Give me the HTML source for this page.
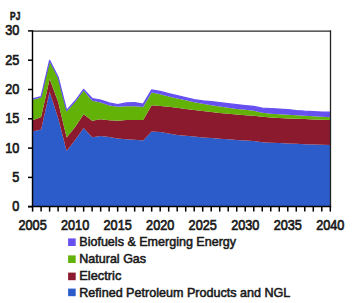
<!DOCTYPE html>
<html><head><meta charset="utf-8"><style>
html,body{margin:0;padding:0;background:#fff;}
svg{display:block;}
text{font-family:"Liberation Sans",sans-serif;fill:#1a1a1a;}
</style></head><body>
<svg width="353" height="303" viewBox="0 0 353 303">
<rect width="353" height="303" fill="#fff"/>
<polygon points="32.60,131.50 41.11,129.50 49.61,92.00 58.12,118.00 66.62,151.00 75.13,140.00 83.63,128.10 92.14,137.30 100.65,136.10 109.15,137.00 117.66,138.40 126.16,139.30 134.67,139.70 143.17,140.60 151.68,131.40 160.19,131.90 168.69,133.60 177.20,134.90 185.70,135.80 194.21,136.60 202.71,137.50 211.22,138.10 219.73,138.70 228.23,139.30 236.74,139.90 245.24,140.50 253.75,141.10 262.25,142.30 270.76,142.70 279.27,143.10 287.77,143.50 296.28,143.82 304.78,144.14 313.29,144.46 321.79,144.78 330.30,145.10 330.30,206.70 32.60,206.70" fill="#2b5cc9"/>
<polygon points="32.60,120.30 41.11,117.00 49.61,79.00 58.12,101.70 66.62,137.40 75.13,127.00 83.63,114.20 92.14,120.80 100.65,119.20 109.15,120.30 117.66,120.80 126.16,119.90 134.67,119.90 143.17,119.90 151.68,105.20 160.19,106.00 168.69,106.80 177.20,107.80 185.70,108.90 194.21,110.00 202.71,111.00 211.22,112.10 219.73,113.00 228.23,113.80 236.74,114.60 245.24,115.20 253.75,115.70 262.25,116.70 270.76,117.50 279.27,118.00 287.77,118.40 296.28,118.80 304.78,119.10 313.29,119.40 321.79,119.70 330.30,120.00 330.30,145.10 321.79,144.78 313.29,144.46 304.78,144.14 296.28,143.82 287.77,143.50 279.27,143.10 270.76,142.70 262.25,142.30 253.75,141.10 245.24,140.50 236.74,139.90 228.23,139.30 219.73,138.70 211.22,138.10 202.71,137.50 194.21,136.60 185.70,135.80 177.20,134.90 168.69,133.60 160.19,131.90 151.68,131.40 143.17,140.60 134.67,139.70 126.16,139.30 117.66,138.40 109.15,137.00 100.65,136.10 92.14,137.30 83.63,128.10 75.13,140.00 66.62,151.00 58.12,118.00 49.61,92.00 41.11,129.50 32.60,131.50" fill="#8c1a2e"/>
<polygon points="32.60,99.80 41.11,97.60 49.61,61.30 58.12,78.00 66.62,111.50 75.13,102.00 83.63,90.50 92.14,100.80 100.65,102.50 109.15,105.50 117.66,106.80 126.16,106.30 134.67,106.30 143.17,107.00 151.68,92.60 160.19,94.20 168.69,96.50 177.20,98.40 185.70,100.30 194.21,102.20 202.71,103.80 211.22,105.20 219.73,106.60 228.23,107.80 236.74,108.90 245.24,109.80 253.75,110.70 262.25,112.80 270.76,113.70 279.27,114.20 287.77,114.70 296.28,115.30 304.78,115.80 313.29,116.30 321.79,116.80 330.30,117.30 330.30,120.00 321.79,119.70 313.29,119.40 304.78,119.10 296.28,118.80 287.77,118.40 279.27,118.00 270.76,117.50 262.25,116.70 253.75,115.70 245.24,115.20 236.74,114.60 228.23,113.80 219.73,113.00 211.22,112.10 202.71,111.00 194.21,110.00 185.70,108.90 177.20,107.80 168.69,106.80 160.19,106.00 151.68,105.20 143.17,119.90 134.67,119.90 126.16,119.90 117.66,120.80 109.15,120.30 100.65,119.20 92.14,120.80 83.63,114.20 75.13,127.00 66.62,137.40 58.12,101.70 49.61,79.00 41.11,117.00 32.60,120.30" fill="#62b208"/>
<polygon points="32.60,98.90 41.11,96.70 49.61,60.30 58.12,77.00 66.62,110.30 75.13,101.00 83.63,89.30 92.14,98.50 100.65,100.10 109.15,102.90 117.66,104.70 126.16,102.90 134.67,102.70 143.17,104.10 151.68,89.90 160.19,91.40 168.69,93.60 177.20,95.60 185.70,97.70 194.21,99.70 202.71,100.80 211.22,101.60 219.73,102.60 228.23,103.70 236.74,104.70 245.24,105.60 253.75,106.40 262.25,108.20 270.76,108.50 279.27,109.00 287.77,109.60 296.28,110.60 304.78,111.20 313.29,111.60 321.79,112.00 330.30,112.20 330.30,117.30 321.79,116.80 313.29,116.30 304.78,115.80 296.28,115.30 287.77,114.70 279.27,114.20 270.76,113.70 262.25,112.80 253.75,110.70 245.24,109.80 236.74,108.90 228.23,107.80 219.73,106.60 211.22,105.20 202.71,103.80 194.21,102.20 185.70,100.30 177.20,98.40 168.69,96.50 160.19,94.20 151.68,92.60 143.17,107.00 134.67,106.30 126.16,106.30 117.66,106.80 109.15,105.50 100.65,102.50 92.14,100.80 83.63,90.50 75.13,102.00 66.62,111.50 58.12,78.00 49.61,61.30 41.11,97.60 32.60,99.80" fill="#6650f0"/>

<polyline points="32.60,98.90 41.11,96.70 49.61,60.30 58.12,77.00 66.62,110.30 75.13,101.00 83.63,89.30 92.14,98.50 100.65,100.10 109.15,102.90 117.66,104.70 126.16,102.90 134.67,102.70 143.17,104.10 151.68,89.90 160.19,91.40 168.69,93.60 177.20,95.60 185.70,97.70 194.21,99.70 202.71,100.80 211.22,101.60 219.73,102.60 228.23,103.70 236.74,104.70 245.24,105.60 253.75,106.40 262.25,108.20 270.76,108.50 279.27,109.00 287.77,109.60 296.28,110.60 304.78,111.20 313.29,111.60 321.79,112.00 330.30,112.20" fill="none" stroke="#6650f0" stroke-width="1.2" stroke-linejoin="round"/>
<g stroke="#000" stroke-width="1.5" fill="none">
<line x1="32.6" y1="31.1" x2="330.5" y2="31.1" stroke="#2a2a2a" stroke-width="1.15"/>
<line x1="330.5" y1="30.3" x2="330.5" y2="206.5" stroke="#222" stroke-width="1.3"/>
<line x1="32.5" y1="30.3" x2="32.5" y2="207.2" stroke="#000" stroke-width="1.4"/>
<line x1="28" y1="206.5" x2="331.2" y2="206.5" stroke="#000" stroke-width="1.4"/>
<line x1="32.60" y1="206.7" x2="32.60" y2="211.6"/><line x1="41.11" y1="206.7" x2="41.11" y2="211.6"/><line x1="49.61" y1="206.7" x2="49.61" y2="211.6"/><line x1="58.12" y1="206.7" x2="58.12" y2="211.6"/><line x1="66.62" y1="206.7" x2="66.62" y2="211.6"/><line x1="75.13" y1="206.7" x2="75.13" y2="211.6"/><line x1="83.63" y1="206.7" x2="83.63" y2="211.6"/><line x1="92.14" y1="206.7" x2="92.14" y2="211.6"/><line x1="100.65" y1="206.7" x2="100.65" y2="211.6"/><line x1="109.15" y1="206.7" x2="109.15" y2="211.6"/><line x1="117.66" y1="206.7" x2="117.66" y2="211.6"/><line x1="126.16" y1="206.7" x2="126.16" y2="211.6"/><line x1="134.67" y1="206.7" x2="134.67" y2="211.6"/><line x1="143.17" y1="206.7" x2="143.17" y2="211.6"/><line x1="151.68" y1="206.7" x2="151.68" y2="211.6"/><line x1="160.19" y1="206.7" x2="160.19" y2="211.6"/><line x1="168.69" y1="206.7" x2="168.69" y2="211.6"/><line x1="177.20" y1="206.7" x2="177.20" y2="211.6"/><line x1="185.70" y1="206.7" x2="185.70" y2="211.6"/><line x1="194.21" y1="206.7" x2="194.21" y2="211.6"/><line x1="202.71" y1="206.7" x2="202.71" y2="211.6"/><line x1="211.22" y1="206.7" x2="211.22" y2="211.6"/><line x1="219.73" y1="206.7" x2="219.73" y2="211.6"/><line x1="228.23" y1="206.7" x2="228.23" y2="211.6"/><line x1="236.74" y1="206.7" x2="236.74" y2="211.6"/><line x1="245.24" y1="206.7" x2="245.24" y2="211.6"/><line x1="253.75" y1="206.7" x2="253.75" y2="211.6"/><line x1="262.25" y1="206.7" x2="262.25" y2="211.6"/><line x1="270.76" y1="206.7" x2="270.76" y2="211.6"/><line x1="279.27" y1="206.7" x2="279.27" y2="211.6"/><line x1="287.77" y1="206.7" x2="287.77" y2="211.6"/><line x1="296.28" y1="206.7" x2="296.28" y2="211.6"/><line x1="304.78" y1="206.7" x2="304.78" y2="211.6"/><line x1="313.29" y1="206.7" x2="313.29" y2="211.6"/><line x1="321.79" y1="206.7" x2="321.79" y2="211.6"/><line x1="330.30" y1="206.7" x2="330.30" y2="211.6"/><line x1="28" y1="206.70" x2="32.6" y2="206.70"/><line x1="28" y1="177.40" x2="32.6" y2="177.40"/><line x1="28" y1="148.10" x2="32.6" y2="148.10"/><line x1="28" y1="118.80" x2="32.6" y2="118.80"/><line x1="28" y1="89.50" x2="32.6" y2="89.50"/><line x1="28" y1="60.20" x2="32.6" y2="60.20"/><line x1="28" y1="30.90" x2="32.6" y2="30.90"/>
</g>
<g font-size="14.2" font-weight="normal" stroke="#1a1a1a" stroke-width="0.7"><text x="19.4" y="211.10" text-anchor="end" textLength="7.05" lengthAdjust="spacingAndGlyphs">0</text><text x="19.4" y="181.80" text-anchor="end" textLength="7.05" lengthAdjust="spacingAndGlyphs">5</text><text x="19.4" y="152.50" text-anchor="end" textLength="14.10" lengthAdjust="spacingAndGlyphs">10</text><text x="19.4" y="123.20" text-anchor="end" textLength="14.10" lengthAdjust="spacingAndGlyphs">15</text><text x="19.4" y="93.90" text-anchor="end" textLength="14.10" lengthAdjust="spacingAndGlyphs">20</text><text x="19.4" y="64.60" text-anchor="end" textLength="14.10" lengthAdjust="spacingAndGlyphs">25</text><text x="19.4" y="35.30" text-anchor="end" textLength="14.10" lengthAdjust="spacingAndGlyphs">30</text><text x="32.60" y="229.6" text-anchor="middle" textLength="28.2" lengthAdjust="spacingAndGlyphs">2005</text><text x="75.13" y="229.6" text-anchor="middle" textLength="28.2" lengthAdjust="spacingAndGlyphs">2010</text><text x="117.66" y="229.6" text-anchor="middle" textLength="28.2" lengthAdjust="spacingAndGlyphs">2015</text><text x="160.19" y="229.6" text-anchor="middle" textLength="28.2" lengthAdjust="spacingAndGlyphs">2020</text><text x="202.71" y="229.6" text-anchor="middle" textLength="28.2" lengthAdjust="spacingAndGlyphs">2025</text><text x="245.24" y="229.6" text-anchor="middle" textLength="28.2" lengthAdjust="spacingAndGlyphs">2030</text><text x="287.77" y="229.6" text-anchor="middle" textLength="28.2" lengthAdjust="spacingAndGlyphs">2035</text><text x="330.30" y="229.6" text-anchor="middle" textLength="28.2" lengthAdjust="spacingAndGlyphs">2040</text></g>
<text x="10.1" y="19.9" font-size="10.3" font-weight="bold" textLength="10.2" lengthAdjust="spacingAndGlyphs" stroke="#1a1a1a" stroke-width="0.6">PJ</text>
<g font-size="12.6" font-weight="normal" stroke="#1a1a1a" stroke-width="0.55"><rect x="68.1" y="238.4" width="7.6" height="7.6" fill="#6650f0" stroke="none"/><text x="79.3" y="246.2" textLength="156.8" lengthAdjust="spacingAndGlyphs">Biofuels &amp; Emerging Energy</text><rect x="68.1" y="255.4" width="7.6" height="7.6" fill="#62b208" stroke="none"/><text x="79.3" y="263.1" textLength="66.8" lengthAdjust="spacingAndGlyphs">Natural Gas</text><rect x="68.1" y="272.6" width="7.6" height="7.6" fill="#8c1a2e" stroke="none"/><text x="79.3" y="280.3" textLength="42" lengthAdjust="spacingAndGlyphs">Electric</text><rect x="68.1" y="288.6" width="7.6" height="7.6" fill="#2b5cc9" stroke="none"/><text x="79.3" y="296.9" textLength="211" lengthAdjust="spacingAndGlyphs">Refined Petroleum Products and NGL</text></g>
</svg>
</body></html>
